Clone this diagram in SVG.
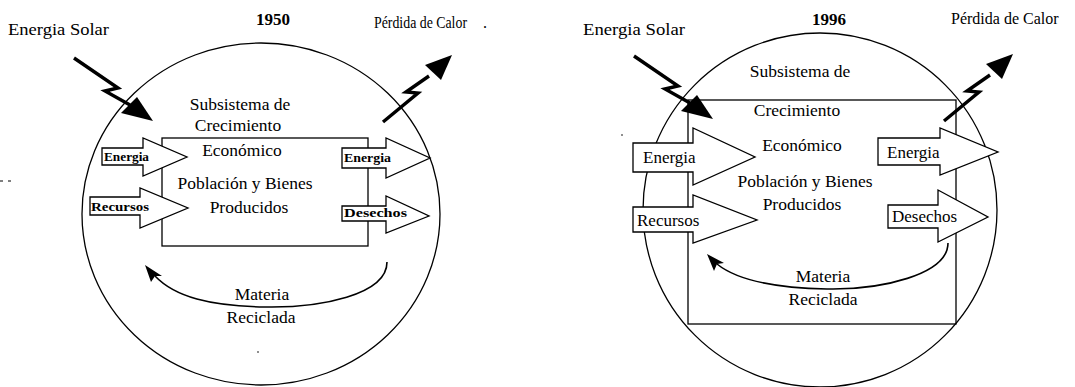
<svg xmlns="http://www.w3.org/2000/svg" width="1075" height="387" viewBox="0 0 1075 387">
<style>
.t{font-family:"Liberation Serif","Times New Roman","DejaVu Serif",serif;font-size:17.5px;fill:#000}
.c{text-anchor:middle}
.b{font-weight:bold;font-size:17px}
.s{font-size:12px;font-weight:bold}
.m{font-size:17px}
.ln{fill:none;stroke:#000;stroke-width:1.3}
.blk{fill:#fff;stroke:#000;stroke-width:1.3}
.bolt{fill:none;stroke:#000;stroke-width:3.4;stroke-linejoin:miter}
.curve{fill:none;stroke:#000;stroke-width:1.6}
.hd{fill:#000}
</style>
<defs>
<g id="boltIn">
<polyline class="bolt" points="74,58 118,88 105,91 130,105"/>
<polygon points="153,121 121,113 137,97" fill="#000"/>
</g>
<g id="boltOut">
<polyline class="bolt" points="383,122 418,93 406,92 429,76"/>
<polygon points="452,55 425,65 441,80" fill="#000"/>
</g>
</defs>

<g id="diagram1950">
<ellipse class="ln" cx="261" cy="214" rx="179" ry="171"/>
<rect class="ln" x="162" y="138" width="206" height="108"/>
<text class="t b c" x="273" y="25">1950</text>
<text class="t" x="8" y="35" textLength="101" lengthAdjust="spacingAndGlyphs">Energia Solar</text>
<text class="t" x="374" y="28" style="font-size:16px" textLength="93" lengthAdjust="spacingAndGlyphs">Pérdida de Calor</text>
<text class="t" x="483" y="28" style="font-size:16px">.</text>
<text class="t c" x="240" y="110">Subsistema de</text>
<text class="t c" x="238" y="131">Crecimiento</text>
<text class="t c" x="242" y="156">Económico</text>
<text class="t c" x="245" y="189">Población y Bienes</text>
<text class="t c" x="249" y="213">Producidos</text>
<text class="t c" x="262" y="300">Materia</text>
<text class="t c" x="261" y="323">Reciclada</text>
<line x1="0" y1="181" x2="14" y2="181" stroke="#000" stroke-width="1" stroke-dasharray="3 5"/>
<circle cx="258" cy="352" r="0.8" fill="#000"/>
</g>

<g id="diagram1996">
<circle class="ln" cx="820" cy="210" r="177"/>
<rect class="ln" x="688" y="100" width="268" height="224"/>
<text class="t b c" x="829" y="25">1996</text>
<text class="t" x="583" y="35" textLength="102" lengthAdjust="spacingAndGlyphs">Energia Solar</text>
<text class="t" x="951" y="24" style="font-size:16px">Pérdida de Calor</text>
<text class="t c" x="800" y="77">Subsistema de</text>
<text class="t c" x="797" y="116">Crecimiento</text>
<text class="t c" x="802" y="151">Económico</text>
<text class="t c" x="805" y="187">Población y Bienes</text>
<text class="t c" x="802" y="210">Producidos</text>
<text class="t c" x="823" y="282">Materia</text>
<text class="t c" x="823" y="305">Reciclada</text>
<circle cx="622" cy="135" r="0.8" fill="#000"/>
</g>

<g id="connectors">
<use href="#boltIn"/>
<use href="#boltOut"/>
<use href="#boltIn" transform="translate(560,-2)"/>
<use href="#boltOut" transform="translate(561,-1)"/>
<path class="curve" d="M387,262 C387,295 320,308 265,307 C210,306 175,297 155,276"/>
<polygon class="hd" points="145,265 162,276 155,276 151,282"/>
<path class="curve" d="M948,243 C948,275 880,290 827,289 C775,288 738,281 717,264"/>
<polygon class="hd" points="707,254 724,263 717,264 714,271"/>
</g>

<g id="arrow-energia-in-1950">
<polygon class="blk" points="102,148 143,148 143,138 187,157 143,176 143,165 102,165"/>
<text class="t s" x="104" y="161" textLength="45" lengthAdjust="spacingAndGlyphs">Energia</text>
</g>
<g id="arrow-recursos-in-1950">
<polygon class="blk" points="90,197 140,197 140,188 188,208 140,228 140,215 90,215"/>
<text class="t s" x="91" y="211" textLength="58" lengthAdjust="spacingAndGlyphs">Recursos</text>
</g>
<g id="arrow-energia-out-1950">
<polygon class="blk" points="342,148 386,148 386,138 430,158 386,178 386,168 342,168"/>
<text class="t s" x="344" y="162" textLength="47" lengthAdjust="spacingAndGlyphs">Energia</text>
</g>
<g id="arrow-desechos-out-1950">
<polygon class="blk" points="342,206 386,206 386,196 429,216 386,233 386,221 342,221"/>
<text class="t s" x="344" y="217" textLength="63" lengthAdjust="spacingAndGlyphs">Desechos</text>
</g>

<g id="arrow-energia-in-1996">
<polygon class="blk" points="633,143 693,143 693,128 755,157 693,185 693,172 633,172"/>
<text class="t m" x="643" y="163">Energia</text>
</g>
<g id="arrow-recursos-in-1996">
<polygon class="blk" points="633,207 693,207 693,195 757,220 693,243 693,232 633,232"/>
<text class="t m" x="637" y="226">Recursos</text>
</g>
<g id="arrow-energia-out-1996">
<polygon class="blk" points="878,138 940,138 940,128 998,152 940,175 940,165 878,165"/>
<text class="t m" x="887" y="158">Energia</text>
</g>
<g id="arrow-desechos-out-1996">
<polygon class="blk" points="888,205 938,205 938,190 988,217 938,242 938,228 888,228"/>
<text class="t m" x="892" y="222">Desechos</text>
</g>
</svg>
